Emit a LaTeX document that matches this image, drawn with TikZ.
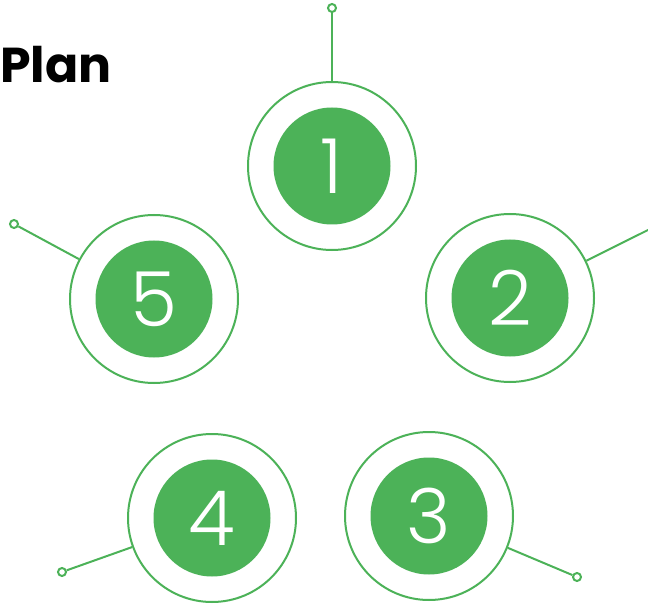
\documentclass[tikz,border=0pt]{standalone}
\usepackage{fontspec}
\newfontfamily\titlefont{Poppins}
\newfontfamily\numfont{Poppins Light}
\definecolor{pgreen}{RGB}{76,178,88}
\tikzset{
  outerring/.style={circle, draw=pgreen, line width=2pt, fill=white, minimum size=168pt, inner sep=0pt},
  innerdisc/.style={circle, fill=pgreen, minimum size=117pt, inner sep=0pt, text=white, font=\numfont\fontsize{76}{76}\selectfont},
  leader/.style={draw=pgreen, line width=2pt},
  tipdot/.style={circle, draw=pgreen, line width=2pt, fill=white, minimum size=8pt, inner sep=0pt}
}
\begin{document}
\begin{tikzpicture}[x=1pt,y=-1pt]
\useasboundingbox (0,0) rectangle (648,604);
\node[anchor=base west, inner sep=0pt, font=\titlefont\bfseries\fontsize{49}{49}\selectfont] (title) at (0,83) {Plan};
% circles
\node[outerring] (o1) at (332,166) {};
\node[innerdisc] (i1) at (332,166) {1};
\node[outerring] (o2) at (510,298) {};
\node[innerdisc] (i2) at (510,298) {2};
\node[outerring] (o3) at (429,516) {};
\node[innerdisc] (i3) at (429,516) {3};
\node[outerring] (o4) at (212,518) {};
\node[innerdisc] (i4) at (212,518) {4};
\node[outerring] (o5) at (154,299) {};
\node[innerdisc] (i5) at (154,299) {5};
% leaders
\node[tipdot] (t1) at (332,8) {};
\coordinate (t2) at (650,229);
\node[tipdot] (t3) at (577,577) {};
\node[tipdot] (t4) at (62,572) {};
\node[tipdot] (t5) at (14,224) {};
\draw[leader] (o1.90) -- (t1);
\draw[leader] (o2.26) -- (t2);
\draw[leader] (o3.-22) -- (t3);
\draw[leader] (o4.-160) -- (t4);
\draw[leader] (o5.152) -- (t5);
\end{tikzpicture}
\end{document}
